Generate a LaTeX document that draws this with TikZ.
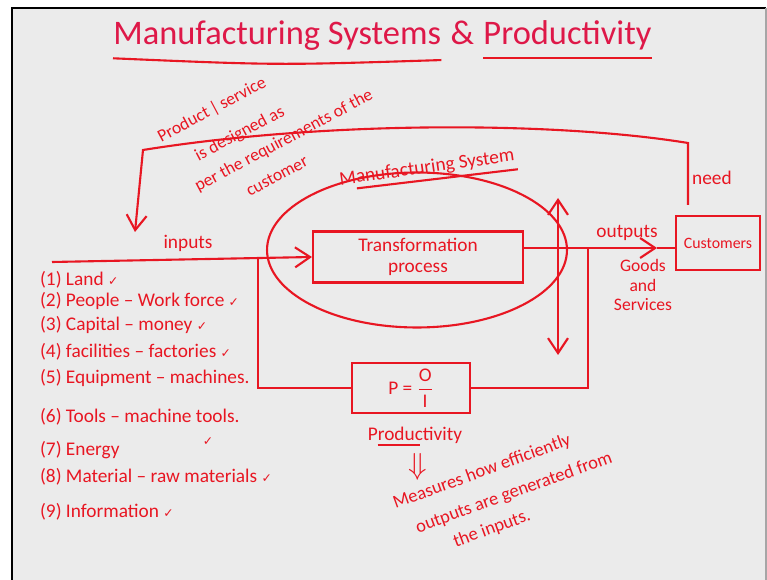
\documentclass[tikz,border=0pt]{standalone}
\usepackage{fontspec}
\setmainfont{Carlito}
\newfontfamily\symfont{DejaVu Sans}
\usetikzlibrary{arrows.meta,shapes.geometric,calc}
\definecolor{pen}{RGB}{232,22,34}
\definecolor{headline}{RGB}{222,24,72}
\definecolor{board}{RGB}{235,235,235}
\newcommand{\tick}{{\symfont\fontsize{7}{7}\selectfont ✓}}
\tikzset{
  hand/.style={text=pen, font=\fontsize{11}{12}\selectfont, inner sep=1pt},
  item/.style={hand, anchor=west},
  note/.style={hand, rotate=28, font=\fontsize{10}{11}\selectfont, inner sep=0pt},
  measure/.style={hand, rotate=20, font=\fontsize{10.5}{11}\selectfont, inner sep=0pt},
  ttl/.style={text=headline, font=\fontsize{19.6}{22}\selectfont, inner sep=0pt, anchor=base west},
  kbox/.style={draw=pen, line width=1.2pt, text=pen, align=center, font=\fontsize{11}{12}\selectfont},
  wire/.style={draw=pen, line width=1.2pt},
  flow/.style={wire, -{Straight Barb[length=3mm,width=4mm]}},
}

\begin{document}
\begin{tikzpicture}[x=0.02cm, y=-0.02cm]
  \useasboundingbox (0,0) rectangle (767,580);
  \fill[white] (0,0) rectangle (767,580);
  \fill[board] (12,8) rectangle (766,580);
  \draw[black, line width=1.4pt] (12,580) -- (12,8) -- (766,8);
  \draw[gray!70, line width=1pt] (766,8) -- (766,580);

  % heading
  \node[ttl] (ttlA) at (113,45) {Manufacturing Systems};
  \node[ttl] (ttlB) at ([xshift=5pt]ttlA.base east) {\&};
  \node[ttl] (ttlC) at ([xshift=5pt]ttlB.base east) {Productivity};
  \draw[wire] ([yshift=-4pt]ttlA.south west) .. controls ([yshift=-8pt]ttlA.south) .. ([yshift=-5pt]ttlA.south east);
  \draw[wire] ([yshift=-4pt]ttlC.south west) -- ([yshift=-4pt]ttlC.south east);

  % system and boxes
  \node[draw=pen, line width=1.2pt, ellipse, minimum width=6cm, minimum height=3.1cm] (msys) at (417,250) {};
  \node[kbox, minimum width=4.2cm, minimum height=1.02cm] (tp) at (418,257) {Transformation\\process};
  \node[kbox, minimum width=1.68cm, minimum height=1.08cm, font=\fontsize{9}{10}\selectfont] (cust) at (718,243) {Customers};
  \node[kbox, minimum width=2.36cm, minimum height=0.92cm] (pbox) at (411,388) {P = $\displaystyle\frac{\mbox{O}}{\mbox{I}}$};

  \node[hand, rotate=8] (msl) at (427,168) {Manufacturing System};
  \draw[wire] ($(msl.south west)!0.1!(msl.south east)$) -- ([yshift=-2pt]msl.south east);

  \coordinate (inl) at (52,262);
  \coordinate (itap) at (258,259);
  \coordinate (otap) at (588,248);
  \coordinate (outarr) at (657,248);
  \coordinate (needbot) at (688,205);
  \coordinate (needtop) at (688,143);
  \coordinate (loopl) at (143,150);
  \coordinate (loopin) at (135,232);
  \coordinate (mup) at (558,198);
  \coordinate (mdn) at (558,355);

  \draw[flow] (inl) -- (tp.west);
  \draw[flow] (tp.east |- otap) -- (outarr);
  \draw[wire] (outarr) -- (cust.west |- outarr);
  \draw[flow] (needbot) -- (needtop) .. controls (560,122) and (330,120) .. (loopl) -- (loopin);
  \draw[wire] (otap) |- (pbox.east);
  \draw[wire] (itap) |- (pbox.west);
  \draw[wire, {Straight Barb[length=3mm,width=4mm]}-{Straight Barb[length=3mm,width=4mm]}] (mdn) -- (mup);

  \node[hand] (inp) at (188,243) {inputs};
  \node[hand] (outp) at (627,233) {outputs};
  \node[hand, align=center, font=\fontsize{10}{11}\selectfont] (goods) at (643,285) {Goods\\and\\Services};
  \node[hand, anchor=west] (need) at (690,178) {need};

  % customer requirement note
  \node[note] (nt1) at (212,110) {Product\,|\,service};
  \node[note] (nt2) at (240,134) {is designed as};
  \node[note] (nt3) at (284,141) {per the requirements of the};
  \node[note] (nt4) at (277,176) {customer};

  % list of inputs
  \node[item] (in1) at (38,280) {(1) Land \tick};
  \node[item] (in2) at (38,301) {(2) People -- Work force \tick};
  \node[item] (in3) at (38,325) {(3) Capital -- money \tick};
  \node[item] (in4) at (38,352) {(4) facilities -- factories \tick};
  \node[item] (in5) at (38,378) {(5) Equipment -- machines.};
  \node[item] (in6) at (38,417) {(6) Tools -- machine tools.};
  \node[item] (in7) at (38,450) {(7) Energy};
  \node[item] (in8) at (38,477) {(8) Material -- raw materials \tick};
  \node[item] (in9) at (38,512) {(9) Information \tick};
  \node[hand] (tk7) at (208,442) {\tick};

  % productivity
  \node[hand] (prod) at (415,435) {Productivity};
  \draw[wire] ($(prod.south west)!0.12!(prod.south east)$) -- ($(prod.south west)!0.55!(prod.south east)$);
  \node[hand, font=\fontsize{16}{16}\selectfont] (impl) at (418,467) {$\Downarrow$};
  \node[measure] (ms1) at (482,472) {Measures how efficiently};
  \node[measure] (ms2) at (514,493) {outputs are generated from};
  \node[measure] (ms3) at (492,529) {the inputs.};
\end{tikzpicture}
\end{document}
